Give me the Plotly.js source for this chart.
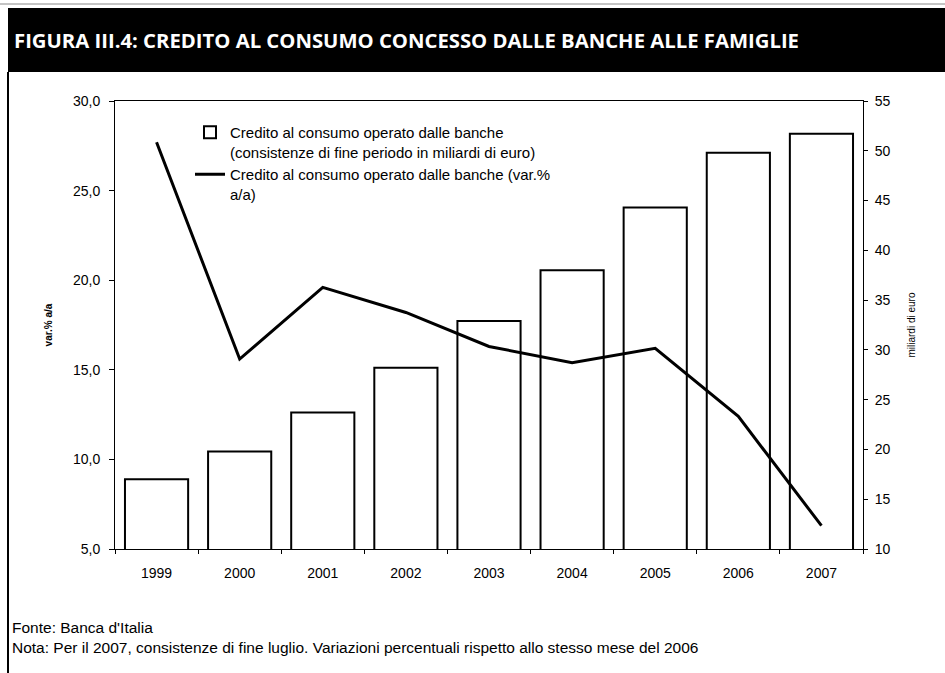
<!DOCTYPE html>
<html>
<head>
<meta charset="utf-8">
<script src="https://cdn.plot.ly/plotly-3.0.1.min.js"></script>
<style>html,body{margin:0;padding:0;background:#fff;}#chart{width:945px;height:673px;}</style>
</head>
<body>
<div id="chart"></div>
<script>
var years = ["1999","2000","2001","2002","2003","2004","2005","2006","2007"];
var stockBillions = [17.0, 19.8, 23.7, 28.2, 32.9, 38.0, 44.3, 49.8, 51.7];
var growthPct = [27.7, 15.6, 19.6, 18.2, 16.3, 15.4, 16.2, 12.4, 6.3];
var titleText = "FIGURA III.4: CREDITO AL CONSUMO CONCESSO DALLE BANCHE ALLE FAMIGLIE";
var barName = "Credito al consumo operato dalle banche<br>(consistenze di fine periodo in miliardi di euro)";
var lineName = "Credito al consumo operato dalle banche (var.%<br>a/a)";
var leftTitle = "var.% a/a";
var rightTitle = "miliardi di euro";
var sourceText = "Fonte: Banca d'Italia";
var noteText = "Nota: Per il 2007, consistenze di fine luglio. Variazioni percentuali rispetto allo stesso mese del 2006";

var W = 945, H = 673, L = 115, R = 863, T = 101, B = 549;
function px(x){ return (x - L) / (R - L); }
function py(y){ return (B - y) / (B - T); }

var baseFont = "Liberation Sans, Arial, sans-serif";
var narrowFont = "Liberation Sans Narrow, Arial Narrow, Liberation Sans, sans-serif";

var traces = [
  {
    type: "bar", x: years, y: stockBillions, yaxis: "y", name: barName,
    marker: {color: "#ffffff", line: {color: "#000000", width: 2}},
    hoverinfo: "x+y"
  },
  {
    type: "scatter", mode: "lines", x: years, y: growthPct, yaxis: "y2", name: lineName,
    line: {color: "#000000", width: 3}
  }
];

var layout = {
  width: W, height: H,
  margin: {l: L, r: W - R, t: T, b: H - B, pad: 0},
  paper_bgcolor: "#ffffff", plot_bgcolor: "#ffffff",
  separators: ",.",
  showlegend: true,
  bargap: 0.24,
  font: {family: baseFont, size: 14, color: "#000"},
  title: {
    text: titleText, x: 14 / W, xanchor: "left", xref: "container",
    y: 1 - 41 / H, yanchor: "middle", yref: "container",
    font: {family: "Open Sans, sans-serif", size: 20.3, color: "#ffffff", weight: 700}
  },
  xaxis: {
    type: "category", showline: true, linecolor: "#000", linewidth: 1, mirror: true,
    ticks: "outside", ticklen: 4, tickcolor: "#000", tickson: "boundaries",
    ticklabelstandoff: 11, showgrid: false, zeroline: false,
    tickfont: {size: 14}
  },
  yaxis: {
    range: [10, 55], dtick: 5, tick0: 10, side: "right",
    showline: true, linecolor: "#000", linewidth: 1,
    ticks: "outside", ticklen: 4, tickcolor: "#000",
    showgrid: false, zeroline: false, ticklabelstandoff: 4,
    tickfont: {size: 14},
    title: {text: rightTitle, standoff: 18, font: {size: 10}}
  },
  yaxis2: {
    range: [5, 30], dtick: 5, tick0: 5, tickformat: ".1f",
    overlaying: "y", side: "left",
    showline: true, linecolor: "#000", linewidth: 1,
    ticks: "outside", ticklen: 5, tickcolor: "#000",
    showgrid: false, zeroline: false, ticklabelstandoff: 6,
    tickfont: {size: 14},
    title: {text: leftTitle, standoff: 18, font: {size: 10, weight: 700}}
  },
  legend: {
    x: px(190), xanchor: "left", y: py(116), yanchor: "top",
    bgcolor: "rgba(0,0,0,0)", borderwidth: 0,
    font: {size: 15}, valign: "top", tracegroupgap: 4, traceorder: "normal"
  },
  shapes: [
    {type: "rect", xref: "paper", yref: "paper", x0: px(8), x1: px(W + 5), y0: py(72), y1: py(8),
     fillcolor: "#000", line: {width: 0}, layer: "below"},
    {type: "line", xref: "paper", yref: "paper", x0: px(0), x1: px(W), y0: py(4), y1: py(4),
     line: {color: "#888", width: 1}, layer: "below"},
    {type: "line", xref: "paper", yref: "paper", x0: px(8), x1: px(8), y0: py(72), y1: py(H + 5),
     line: {color: "#000", width: 2}, layer: "below"}
  ],
  annotations: [
    {xref: "paper", yref: "paper", x: px(10), y: py(627), xanchor: "left", yanchor: "middle",
     text: sourceText, showarrow: false, font: {family: narrowFont, size: 15.5}},
    {xref: "paper", yref: "paper", x: px(10), y: py(647), xanchor: "left", yanchor: "middle",
     text: noteText, showarrow: false, font: {family: narrowFont, size: 15.5}}
  ]
};

Plotly.newPlot("chart", traces, layout, {displayModeBar: false, staticPlot: true});
</script>
</body>
</html>
